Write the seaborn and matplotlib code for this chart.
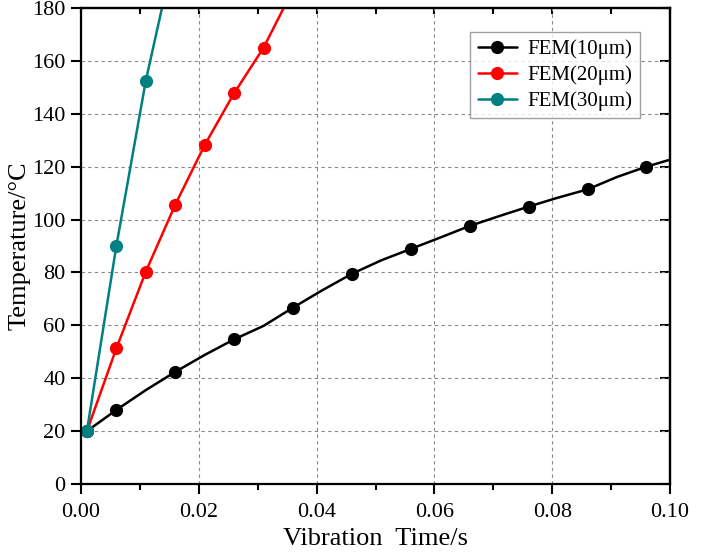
import numpy as np
import pandas as pd
import matplotlib
matplotlib.use("Agg")
import matplotlib.pyplot as plt
import seaborn as sns

# ---- data ----
t_black = [0.001, 0.006, 0.011, 0.016, 0.021, 0.026, 0.031, 0.036, 0.041, 0.046,
           0.051, 0.056, 0.061, 0.066, 0.071, 0.076, 0.081, 0.086, 0.091, 0.096, 0.101]
T_black = [20.0, 28.0, 35.5, 42.4, 48.8, 54.7, 59.8, 66.7, 73.3, 79.5,
           84.6, 88.9, 93.2, 97.6, 101.3, 104.9, 108.3, 111.4, 116.1, 120.0, 123.3]
mark_black = [0, 1, 3, 5, 7, 9, 11, 13, 15, 17, 19]

t_red = [0.001, 0.006, 0.011, 0.016, 0.021, 0.026, 0.031, 0.036]
T_red = [20.0, 51.3, 80.3, 105.6, 128.2, 147.8, 165.0, 187.0]

t_teal = [0.001, 0.006, 0.011, 0.016]
T_teal = [20.0, 90.0, 152.5, 202.5]

labels = ["FEM(10μm)", "FEM(20μm)", "FEM(30μm)"]
colors = ["#000000", "#FF0000", "#008080"]

x_ticks = [0.00, 0.02, 0.04, 0.06, 0.08, 0.10]
x_ticklabels = ["0.00", "0.02", "0.04", "0.06", "0.08", "0.10"]
y_ticks = [0, 20, 40, 60, 80, 100, 120, 140, 160, 180]

sns.set_theme(style="ticks")
plt.rcParams["font.family"] = ["Liberation Serif", "DejaVu Serif"]
plt.rcParams["text.color"] = "black"
plt.rcParams["axes.labelcolor"] = "black"
plt.rcParams["xtick.color"] = "black"
plt.rcParams["ytick.color"] = "black"

fig = plt.figure(figsize=(7.02, 5.6), dpi=100)
ax = fig.add_axes([81 / 702, 1 - 484 / 560, (670 - 81) / 702, (484 - 8) / 560])

series = [
    (t_black, T_black, mark_black),
    (t_red, T_red, None),
    (t_teal, T_teal, None),
]
for (tx, ty, mk), lab, col in zip(series, labels, colors):
    df = pd.DataFrame({"t": tx, "T": ty})
    kw = dict(marker="o", markersize=9.5, markeredgewidth=0, linewidth=1.8)
    if mk is not None:
        kw["markevery"] = mk
    sns.lineplot(data=df, x="t", y="T", ax=ax, color=col, label=lab,
                 sort=False, estimator=None, **kw)

ax.set_xlim(0, 0.1)
ax.set_ylim(0, 180)
ax.set_xticks(x_ticks)
ax.set_xticklabels(x_ticklabels)
ax.set_xticks(np.arange(0.01, 0.1, 0.02), minor=True)
ax.set_yticks(y_ticks)

ax.grid(True, which="major", color="#888888", linestyle=(0, (3, 3)), linewidth=0.8)
ax.set_axisbelow(True)

for s in ax.spines.values():
    s.set_visible(True)
    s.set_linewidth(1.6)
    s.set_color("black")

ax.tick_params(axis="both", which="major", direction="out", length=7, width=1.5,
               labelsize=16, colors="black")
ax.tick_params(axis="x", which="major", pad=7)
ax.tick_params(axis="y", which="major", pad=4)
ax.tick_params(axis="x", which="minor", direction="out", length=4, width=1.5)

top = ax.secondary_xaxis("top")
top.set_xticks(x_ticks)
top.set_xticks(np.arange(0.01, 0.1, 0.02), minor=True)
top.tick_params(which="both", direction="in", length=4, width=1.5, labeltop=False)
top.spines["top"].set_linewidth(1.6)

right = ax.secondary_yaxis("right")
right.set_yticks(y_ticks)
right.tick_params(which="both", direction="in", length=7, width=1.5, labelright=False)
right.spines["right"].set_linewidth(1.6)

ax.set_xlabel("Vibration  Time/s", fontsize=19, labelpad=4)
ax.set_ylabel("Temperature/°C", fontsize=19, labelpad=1)

leg = ax.legend(loc="upper right", bbox_to_anchor=(0.949, 0.9496), borderaxespad=0,
                fontsize=15, frameon=True, fancybox=False, edgecolor="#888888",
                handlelength=1.9, handletextpad=0.5, borderpad=0.35, labelspacing=0.3)
leg.get_frame().set_linewidth(1.0)

fig.savefig("out.png", dpi=100)
